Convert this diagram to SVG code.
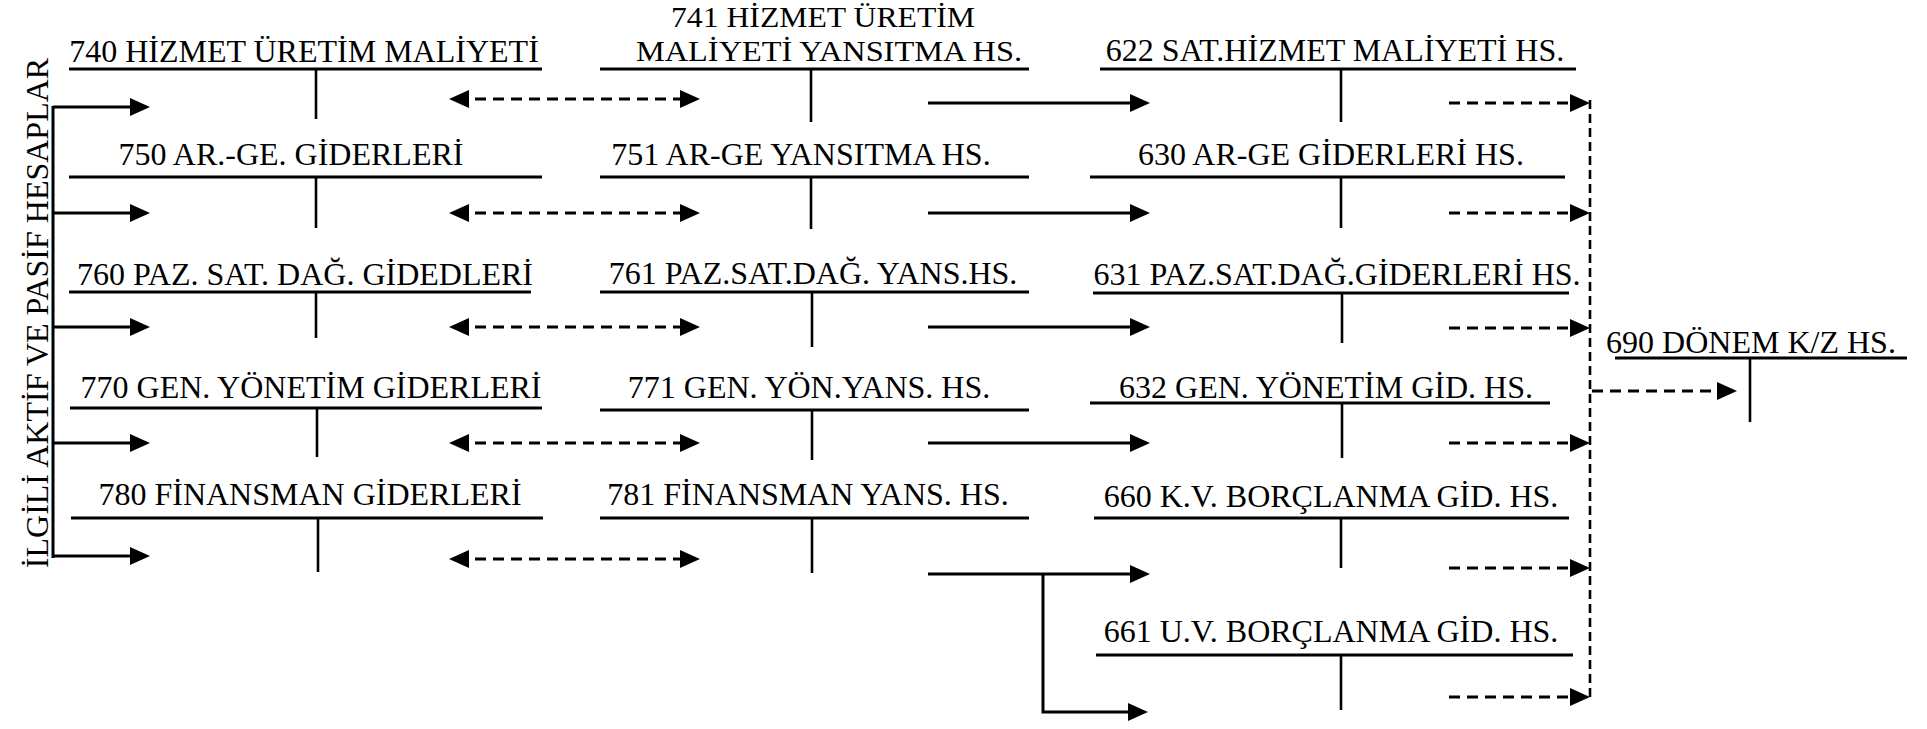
<svg xmlns="http://www.w3.org/2000/svg" width="1927" height="729" viewBox="0 0 1927 729">
<style>
text{font-family:"Liberation Serif","DejaVu Serif",serif;font-size:32px;fill:#000;text-anchor:middle}
.t2{font-size:30px}
.u{stroke:#000;stroke-width:3.2;fill:none}
.v{stroke:#000;stroke-width:2.6;fill:none}
.s{stroke:#000;stroke-width:3;fill:none}
.d{stroke:#000;stroke-width:3;fill:none;stroke-dasharray:11 7}
.dv{stroke:#000;stroke-width:2.6;fill:none;stroke-dasharray:9 5}
.ah{marker-end:url(#ah)}
.ah2{marker-start:url(#ah);marker-end:url(#ah)}
</style>
<defs>
<marker id="ah" markerUnits="userSpaceOnUse" markerWidth="20" markerHeight="18" viewBox="0 0 20 18" refX="12" refY="9" orient="auto-start-reverse"><path d="M0,0 L20,9 L0,18 z" fill="#000"/></marker>
</defs>
<rect width="1927" height="729" fill="#fff"/>

<g id="label-ilgili">
<text transform="translate(48,313) rotate(-90)">İLGİLİ AKTİF VE PASİF HESAPLAR</text>
</g>

<g id="n740"><text x="304" y="62">740 HİZMET ÜRETİM MALİYETİ</text><path class="u" d="M69,69 H542"/><path class="v" d="M316,69 V119"/></g>
<g id="n741"><text class="t2" x="823" y="27" textLength="304" lengthAdjust="spacingAndGlyphs">741 HİZMET ÜRETİM</text><text class="t2" x="829" y="61" textLength="386" lengthAdjust="spacingAndGlyphs">MALİYETİ YANSITMA HS.</text><path class="u" d="M600,69 H1029"/><path class="v" d="M811,69 V122"/></g>
<g id="n622"><text x="1335" y="61">622 SAT.HİZMET MALİYETİ HS.</text><path class="u" d="M1100,69 H1576"/><path class="v" d="M1341,69 V122"/></g>

<g id="n750"><text x="291" y="165">750 AR.-GE. GİDERLERİ</text><path class="u" d="M69,177 H542"/><path class="v" d="M316,177 V228"/></g>
<g id="n751"><text x="801" y="165">751 AR-GE YANSITMA HS.</text><path class="u" d="M600,177 H1029"/><path class="v" d="M811,177 V229"/></g>
<g id="n630"><text x="1331" y="165">630 AR-GE GİDERLERİ HS.</text><path class="u" d="M1090,177 H1565"/><path class="v" d="M1341,177 V228"/></g>

<g id="n760"><text x="305" y="285">760 PAZ. SAT. DAĞ. GİDEDLERİ</text><path class="u" d="M69,292 H531"/><path class="v" d="M316,292 V338"/></g>
<g id="n761"><text x="813" y="284">761 PAZ.SAT.DAĞ. YANS.HS.</text><path class="u" d="M600,292 H1029"/><path class="v" d="M812,292 V347"/></g>
<g id="n631"><text x="1337" y="285">631 PAZ.SAT.DAĞ.GİDERLERİ HS.</text><path class="u" d="M1093,293 H1569"/><path class="v" d="M1342,293 V343"/></g>

<g id="n770"><text x="311" y="398">770 GEN. YÖNETİM GİDERLERİ</text><path class="u" d="M70,408 H542"/><path class="v" d="M317,408 V457"/></g>
<g id="n771"><text x="809" y="398">771 GEN. YÖN.YANS. HS.</text><path class="u" d="M600,410 H1029"/><path class="v" d="M812,410 V460"/></g>
<g id="n632"><text x="1326" y="398">632 GEN. YÖNETİM GİD. HS.</text><path class="u" d="M1090,403 H1550"/><path class="v" d="M1342,403 V458"/></g>

<g id="n780"><text x="310" y="505">780 FİNANSMAN GİDERLERİ</text><path class="u" d="M71,518 H543"/><path class="v" d="M318,518 V572"/></g>
<g id="n781"><text x="808" y="505">781 FİNANSMAN YANS. HS.</text><path class="u" d="M600,518 H1029"/><path class="v" d="M812,518 V573"/></g>
<g id="n660"><text x="1331" y="507">660 K.V. BORÇLANMA GİD. HS.</text><path class="u" d="M1094,518 H1569"/><path class="v" d="M1341,518 V568"/></g>

<g id="n661"><text x="1331" y="642">661 U.V. BORÇLANMA GİD. HS.</text><path class="u" d="M1096,655 H1573"/><path class="v" d="M1341,655 V710"/></g>

<g id="n690"><text x="1751" y="353">690 DÖNEM K/Z HS.</text><path class="u" d="M1615,358 H1907"/><path class="v" d="M1750,358 V422"/></g>

<g id="connectors">
<path class="s" d="M53,106 V558"/>
<path class="s ah" d="M53,107 H142"/>
<path class="s ah" d="M53,213 H142"/>
<path class="s ah" d="M53,327 H142"/>
<path class="s ah" d="M53,443 H142"/>
<path class="s ah" d="M53,556 H142"/>

<path class="d ah2" d="M457,99 H692"/>
<path class="d ah2" d="M457,213 H692"/>
<path class="d ah2" d="M457,327 H692"/>
<path class="d ah2" d="M457,443 H692"/>
<path class="d ah2" d="M457,559 H692"/>

<path class="s ah" d="M928,103 H1142"/>
<path class="s ah" d="M928,213 H1142"/>
<path class="s ah" d="M928,327 H1142"/>
<path class="s ah" d="M928,443 H1142"/>
<path class="s ah" d="M928,574 H1142"/>
<path class="s ah" d="M1043,574 V712 H1140"/>

<path class="d ah" d="M1449,103 H1582"/>
<path class="d ah" d="M1449,213 H1582"/>
<path class="d ah" d="M1449,328 H1582"/>
<path class="d ah" d="M1449,443 H1582"/>
<path class="d ah" d="M1449,568 H1582"/>
<path class="d ah" d="M1449,697 H1582"/>
<path class="dv" d="M1590,100 V697"/>
<path class="d ah" d="M1592,391 H1729"/>
</g>
</svg>
